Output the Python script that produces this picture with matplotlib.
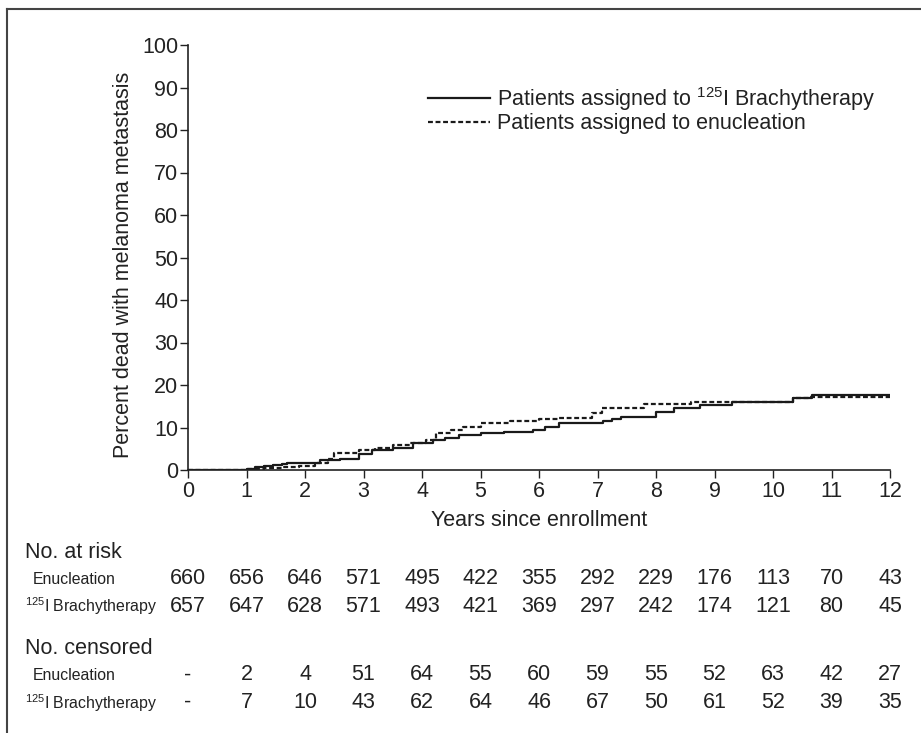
import matplotlib
matplotlib.use("Agg")
import matplotlib.pyplot as plt
import matplotlib.transforms as mtransforms

plt.rcParams["font.family"] = ["Liberation Sans", "DejaVu Sans"]
plt.rcParams["mathtext.fontset"] = "custom"
plt.rcParams["mathtext.rm"] = "Liberation Sans"
plt.rcParams["mathtext.default"] = "regular"

# Kaplan-Meier style cumulative curves (percent dead with metastasis)
brachy_t = [0, 1.0, 1.15, 1.3, 1.45, 1.6, 1.7, 2.25, 2.6, 2.93, 3.15, 3.5, 3.84, 4.18, 4.4,
            4.64, 5.0, 5.4, 5.9, 6.1, 6.35, 7.1, 7.25, 7.4, 8.0, 8.3, 8.75, 9.3, 10.35, 10.67, 12.0]
brachy_v = [0, 0.3, 0.6, 0.9, 1.2, 1.5, 1.7, 2.3, 2.7, 3.7, 4.6, 5.1, 6.3, 7.1, 7.6,
            8.2, 8.6, 9.0, 9.4, 10.2, 11.1, 11.6, 12.0, 12.4, 13.7, 14.5, 15.3, 15.9, 16.9, 17.7, 17.7]

enuc_t = [0, 1.0, 1.3, 1.6, 1.9, 2.17, 2.4, 2.5, 2.93, 3.2, 3.5, 3.8, 4.07, 4.24, 4.5,
          4.7, 5.0, 5.5, 6.0, 6.35, 6.9, 7.07, 7.8, 8.6, 10.35, 10.63, 12.0]
enuc_v = [0, 0.2, 0.4, 0.6, 1.0, 1.6, 2.7, 3.9, 4.7, 5.2, 5.8, 6.4, 7.1, 8.6, 9.4,
          10.2, 11.0, 11.5, 12.0, 12.2, 13.4, 14.5, 15.5, 16.0, 16.9, 17.1, 17.1]

years = list(range(0, 13))
risk_enuc = ["660", "656", "646", "571", "495", "422", "355", "292", "229", "176", "113", "70", "43"]
risk_brachy = ["657", "647", "628", "571", "493", "421", "369", "297", "242", "174", "121", "80", "45"]
cens_enuc = ["-", "2", "4", "51", "64", "55", "60", "59", "55", "52", "63", "42", "27"]
cens_brachy = ["-", "7", "10", "43", "62", "64", "46", "67", "50", "61", "52", "39", "35"]

W, H = 921, 733
BIG = 15.5
SMALL = 11.4
INK = "#222222"

fig = plt.figure(figsize=(W / 100, H / 100), dpi=100)
ax = fig.add_axes([188 / W, 1 - 470 / H, (890 - 188) / W, (470 - 45) / H])

ax.plot(brachy_t, brachy_v, drawstyle="steps-post", color="#1a1a1a", lw=1.6,
        label=r"Patients assigned to $^{125}$I Brachytherapy")
ax.plot(enuc_t, enuc_v, drawstyle="steps-post", color="#1a1a1a", lw=1.6,
        dashes=(2.2, 1.2), label="Patients assigned to enucleation")

ax.set_xlim(0, 12)
ax.set_ylim(0, 100)
ax.set_xticks(years)
ax.set_yticks(range(0, 101, 10))
for s in ["top", "right"]:
    ax.spines[s].set_visible(False)
for s in ["left", "bottom"]:
    ax.spines[s].set_linewidth(1.2)
    ax.spines[s].set_color(INK)
ax.tick_params(direction="out", length=6, width=1, colors=INK, labelsize=BIG, pad=1)
ax.tick_params(axis="x", pad=2)

ax.set_xlabel("Years since enrollment", fontsize=BIG, color=INK)
ax.xaxis.set_label_coords(0.5, (470 - 510) / 425)
ax.set_ylabel("Percent dead with melanoma metastasis", fontsize=BIG, color=INK)
ax.yaxis.set_label_coords((134 - 188) / 702, (470 - 265) / 425)

leg = ax.legend(loc="upper left", bbox_to_anchor=((428 - 188) / 702, (470 - 85) / 425),
                frameon=False, fontsize=BIG, handlelength=2.9, handletextpad=0.3,
                borderpad=0, borderaxespad=0, labelspacing=0.02)
for t in leg.get_texts():
    t.set_color(INK)

# risk table below the plot
tr = mtransforms.blended_transform_factory(ax.transData, fig.transFigure)

def fy(px):
    return 1 - px / H

fig.text(25 / W, fy(552), "No. at risk", fontsize=BIG, va="center", ha="left", color=INK)
fig.text(33 / W, fy(579), "Enucleation", fontsize=SMALL, va="center", ha="left", color=INK)
fig.text(25 / W, fy(606), r"$^{125}$I Brachytherapy", fontsize=SMALL, va="center", ha="left", color=INK)
fig.text(25 / W, fy(649), "No. censored", fontsize=BIG, va="center", ha="left", color=INK)
fig.text(33 / W, fy(676), "Enucleation", fontsize=SMALL, va="center", ha="left", color=INK)
fig.text(25 / W, fy(703), r"$^{125}$I Brachytherapy", fontsize=SMALL, va="center", ha="left", color=INK)

rows = [(578, risk_enuc), (606, risk_brachy), (675, cens_enuc), (702, cens_brachy)]
for ypx, vals in rows:
    for x, v in zip(years, vals):
        ax.text(x, fy(ypx), v, transform=tr, fontsize=BIG, ha="center", va="center",
                color=INK)

# frame lines (top and left)
fig.add_artist(plt.Line2D([7 / W, 7 / W], [0, fy(9)], transform=fig.transFigure,
                          color="#444444", lw=1.5))
fig.add_artist(plt.Line2D([7 / W, 1], [fy(9), fy(9)], transform=fig.transFigure,
                          color="#444444", lw=1.5))

fig.savefig("out.png", dpi=100)
